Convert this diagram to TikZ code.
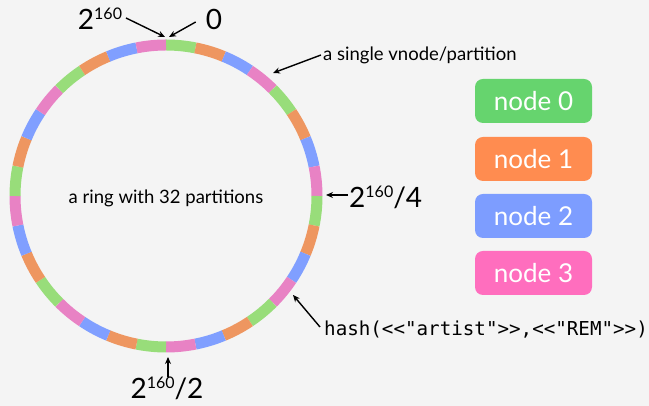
\documentclass[tikz,border=0pt]{standalone}
\usepackage{fontspec}
\setmainfont{Lato}
\setmonofont{DejaVu Sans Mono}
\usetikzlibrary{arrows.meta}
\definecolor{bg}{HTML}{F4F4F4}
\definecolor{rgreen}{HTML}{98DD7A}
\definecolor{rorange}{HTML}{EE9660}
\definecolor{rblue}{HTML}{809FFF}
\definecolor{rpink}{HTML}{E882C4}
\definecolor{bgreen}{HTML}{66D46E}
\definecolor{borange}{HTML}{FF8C50}
\definecolor{bblue}{HTML}{7D9DFF}
\definecolor{bpink}{HTML}{FF6EBE}
\newcommand{\twopow}{2\raisebox{0.36em}{\fontsize{16}{16}\selectfont 160}}
\begin{document}
\begin{tikzpicture}[x=1pt,y=1pt,
  lab/.style={inner sep=0pt, text=black},
  biglab/.style={lab, font=\fontsize{28}{30}\selectfont},
  smalllab/.style={lab, font=\fontsize{18.5}{20}\selectfont},
  monolab/.style={lab, font=\ttfamily\fontsize{19.2}{21}\selectfont},
  pointer/.style={line width=1.4pt, -{Stealth[length=7pt,width=6pt]}},
  nodebox/.style={rounded corners=8pt, minimum width=117pt, minimum height=44pt,
    inner sep=0pt, text=white, font=\fontsize{26}{28}\selectfont}]
\useasboundingbox[fill=bg] (0,0) rectangle (649,406);
% ring
\coordinate (c) at (166,210);
\foreach \k in {0,...,31}{
  \pgfmathtruncatemacro{\m}{mod(\k,4)}
  \ifcase\m \def\col{rgreen}\or \def\col{rorange}\or \def\col{rblue}\or \def\col{rpink}\fi
  \pgfmathsetmacro{\a}{90-\k*11.25}
  \pgfmathsetmacro{\b}{90-(\k+1)*11.25}
  \draw[\col, line width=11pt] ([shift={(\a:151)}]c) arc[start angle=\a, end angle=\b, radius=151];
}
\node[smalllab] (ringtxt) at (166,208) {a ring with 32 partitions};
% top labels
\node[biglab] (top160) at (100,387) {\twopow};
\node[biglab] (topzero) at (214,387) {0};
\coordinate (ringtopL) at (165,369);
\coordinate (ringtopR) at (169,369);
\draw[pointer] (126,388) -- (ringtopL);
\draw[pointer] (topzero.west) ++(-10pt,-3pt) coordinate (zstart) (zstart) -- (ringtopR);
% vnode label
\node[smalllab, anchor=west] (vnode) at (323,351) {a single vnode/partition};
\coordinate (vtip) at (273,333);
\draw[pointer] (vnode.west) ++(-2pt,0) -- (vtip);
% quarter
\node[biglab, anchor=west] (quarter) at (349,209) {\twopow/4};
\coordinate (qtip) at (326,211);
\draw[pointer] (quarter.west) ++(-1pt,2pt) -- (qtip);
% hash
\node[monolab, anchor=west] (hash) at (324,76) {hash(<<"artist">>,<<"REM">>)};
\coordinate (htip) at (293,111);
\coordinate (hstart) at (320,79);
\draw[pointer] (hstart) -- (htip);
% half
\node[biglab] (half) at (167,18) {\twopow/2};
\coordinate (halftip) at (168,49);
\coordinate (halfstart) at (168,29);
\draw[pointer] (halfstart) -- (halftip);
% legend
\node[nodebox, fill=bgreen] (n0) at (533.5,305) {node 0};
\node[nodebox, fill=borange] (n1) at (533.5,247) {node 1};
\node[nodebox, fill=bblue] (n2) at (533.5,190) {node 2};
\node[nodebox, fill=bpink] (n3) at (533.5,133) {node 3};
\end{tikzpicture}
\end{document}
